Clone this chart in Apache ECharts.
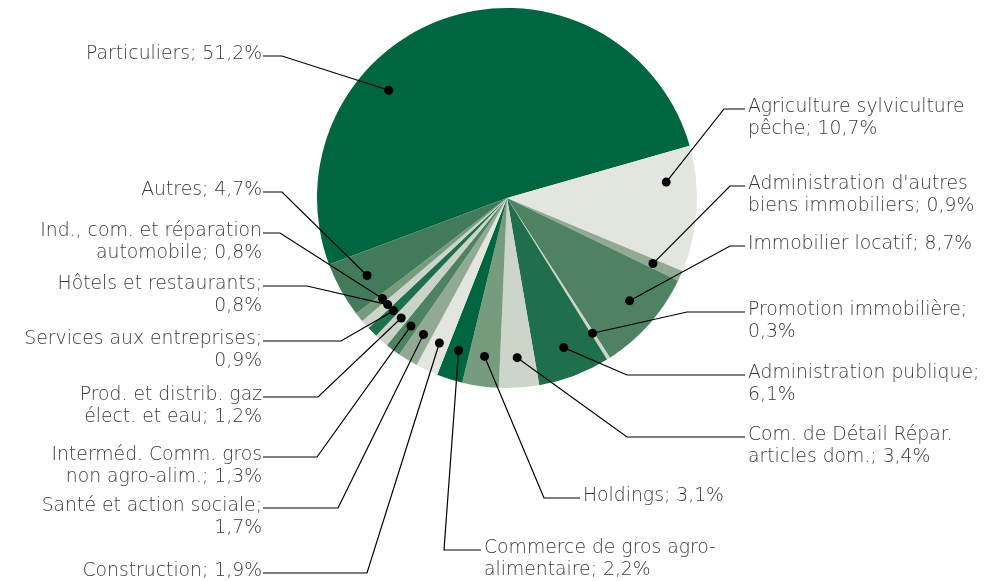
<!DOCTYPE html>
<html><head><meta charset="utf-8">
<script src="https://cdn.jsdelivr.net/npm/echarts@6/dist/echarts.min.js"></script>
<style>html,body{margin:0;padding:0;background:#fff}#c{width:988px;height:581px}</style>
</head><body><div id="c"></div>
<script>
// ---- data ----
const categories = [
  'Particuliers',
  'Agriculture sylviculture\npêche',
  "Administration d'autres\nbiens immobiliers",
  'Immobilier locatif',
  'Promotion immobilière',
  'Administration publique',
  'Com. de Détail Répar.\narticles dom.',
  'Holdings',
  'Commerce de gros agro-\nalimentaire',
  'Construction',
  'Santé et action sociale',
  'Interméd. Comm. gros\nnon agro-alim.',
  'Prod. et distrib. gaz\nélect. et eau',
  'Services aux entreprises',
  'Hôtels et restaurants',
  'Ind., com. et réparation\nautomobile',
  'Autres'
];
const values = [51.2, 10.7, 0.9, 8.7, 0.3, 6.1, 3.4, 3.1, 2.2, 1.9, 1.7, 1.3, 1.2, 0.9, 0.8, 0.8, 4.7];
// categories whose value goes on its own line
const valueOnNewLine = ['Promotion immobilière', 'Administration publique', 'Santé et action sociale', 'Services aux entreprises', 'Hôtels et restaurants'];

// ---- styles / layout ----
const sliceColors = ['#00663f', '#e3e6df', '#93aa92', '#4e8262', '#cbd3c8', '#1e6f4a', '#cdd4ca', '#779b7d',
                     '#00663f', '#e3e6df', '#93aa92', '#4e8262', '#cbd3c8', '#1e6f4a', '#cdd4ca', '#779b7d', '#417b5b'];
const CX = 507, CY = 198, R = 190, DOT_R = 160, START = 200.5;
// label spots: [side, textX, lineY, elbowX, dotAngleShiftDeg (counter-clockwise)]
const labelSpots = [
  ['L', 262, 56, 282, 29.4],
  ['R', 748, 109, 724, 9],
  ['R', 748, 186, 730, 0],
  ['R', 748, 246, 730, 1.5],
  ['R', 748, 312, 687, 0],
  ['R', 748, 375, 627, 0],
  ['R', 748, 437, 627, 0],
  ['R', 583, 498, 544, 0],
  ['R', 484, 550, 444, 0],
  ['L', 262, 573, 367, 0],
  ['L', 262, 508, 338, 0],
  ['L', 262, 457, 317, 0],
  ['L', 262, 397, 318, 0],
  ['L', 262, 341, 341, 0],
  ['L', 262, 286, 307, 0],
  ['L', 262, 233, 280, 0],
  ['L', 262, 192, 282, 0]
];
const FONT = 18.8, LH = 22;

function fmt(v) { return v.toFixed(1).replace('.', ',') + '%'; }

const pieData = categories.map((c, i) => ({ name: c, value: values[i], itemStyle: { color: sliceColors[i] } }));
const ghostData = categories.map((c, i) => ({ name: c, value: values[i] }));

let chart;
function dotPoint(i) {
  const lay = chart.getModel().getSeriesByIndex(0).getData().getItemLayout(i);
  const mid = (lay.startAngle + lay.endAngle) / 2 - labelSpots[i][4] * Math.PI / 180;
  const rr = lay.r * DOT_R / R;
  return [lay.cx + rr * Math.cos(mid), lay.cy + rr * Math.sin(mid)];
}

chart = echarts.init(document.getElementById('c'), null, { renderer: 'canvas' });
chart.setOption({
  animation: false,
  backgroundColor: '#fff',
  series: [
    {
      type: 'pie',
      center: [CX, CY],
      radius: [0, R],
      startAngle: START,
      clockwise: true,
      data: pieData,
      emphasis: { disabled: true },
      itemStyle: { borderWidth: 0 },
      label: { show: false },
      labelLine: { show: false },
      z: 2
    },
    {
      type: 'pie',
      center: [CX, CY],
      radius: [0, R],
      startAngle: START,
      clockwise: true,
      silent: true,
      avoidLabelOverlap: false,
      data: ghostData,
      itemStyle: { color: 'rgba(0,0,0,0)' },
      emphasis: { disabled: true },
      label: {
        show: true,
        position: 'outside',
        fontFamily: 'DejaVu Sans',
        fontWeight: 200,
        fontSize: FONT,
        lineHeight: LH,
        color: '#3a3a3a',
        overflow: 'none',
        formatter: p => p.name + ';' + (valueOnNewLine.indexOf(p.name) >= 0 ? '\n' : ' ') + fmt(p.value)
      },
      labelLine: { show: true, length: 10, length2: 10, lineStyle: { color: '#000', width: 1.2 } },
      labelLayout: function (p) {
        const s = labelSpots[p.dataIndex];
        const dot = dotPoint(p.dataIndex);
        const isL = s[0] === 'L';
        const endX = isL ? s[1] + 1 : s[1] - 3;
        return {
          x: s[1],
          y: s[2] - 12.5,
          align: isL ? 'right' : 'left',
          verticalAlign: 'top',
          labelLinePoints: [dot, [s[3], s[2]], [endX, s[2]]]
        };
      },
      z: 5
    },
    {
      type: 'pie',
      center: [CX, CY],
      radius: [130, R],
      startAngle: START,
      clockwise: true,
      silent: true,
      data: ghostData,
      itemStyle: { color: 'rgba(0,0,0,0)' },
      emphasis: { disabled: true },
      labelLine: { show: false },
      label: {
        show: true,
        position: 'inside',
        formatter: '{d| }',
        rich: { d: { width: 9, height: 9, backgroundColor: '#000', borderRadius: 4.5, fontSize: 1, lineHeight: 9 } }
      },
      labelLayout: function (p) {
        const dot = dotPoint(p.dataIndex);
        return { x: dot[0], y: dot[1], align: 'center', verticalAlign: 'middle' };
      },
      z: 6
    }
  ]
});
</script>
</body></html>
